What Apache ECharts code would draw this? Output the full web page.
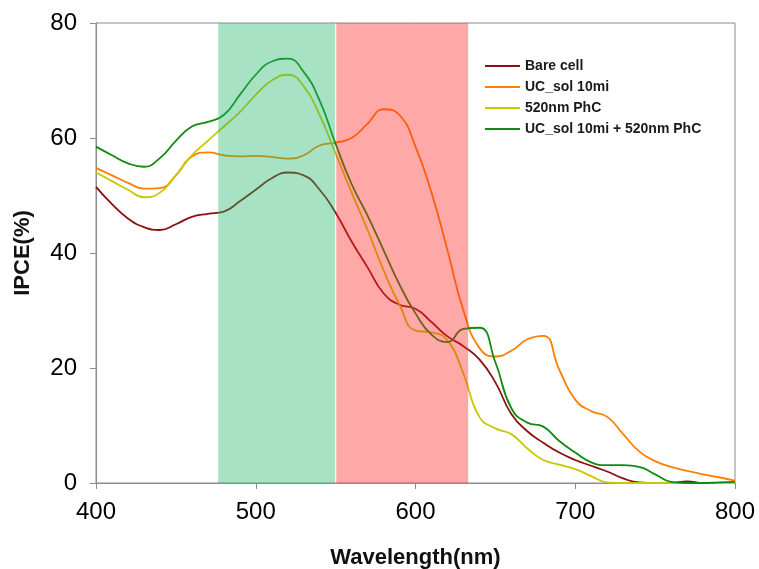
<!DOCTYPE html>
<html>
<head>
<meta charset="utf-8">
<script src="https://cdn.jsdelivr.net/npm/echarts@6/dist/echarts.min.js"></script>
<style>
html,body{margin:0;padding:0;background:#fff;}
#chart{width:759px;height:569px;}
</style>
</head>
<body>
<div id="chart"></div>
<script>
// Wavelength (nm), every 10 nm
var wavelengths = [400,410,420,430,440,450,460,470,480,490,500,510,520,530,540,550,560,570,580,590,600,610,620,630,640,650,660,670,680,690,700,710,720,730,740,750,760,770,780,790,800];

var seriesNames = ['Bare cell', 'UC_sol 10mi', '520nm PhC', 'UC_sol 10mi + 520nm PhC'];

var bareCell = [51.5,48.5,46,44.5,44,45,46.3,46.8,47.2,49,51,53,54,53.5,51,47,42,37.5,33,31,30.3,28,25.5,23.8,21.5,17.5,12,9,7,5.3,4,3,2,0.8,0.1,0,0,0.3,0,0,0];

var ucSol = [54.8,53.5,52.2,51.2,51.3,53.5,56.8,57.5,57,56.8,56.9,56.7,56.4,57,58.7,59.2,60,62.5,65,64,58.5,50.5,40.5,30,23.5,22,23,25,25.6,19.7,14.5,12.5,11.5,8.5,5.5,3.8,2.8,2.1,1.5,1,0.4];

var phc520 = [54,52.5,51,49.7,50.5,53.5,57,59.5,62,64.5,67.5,70,71,69,64,57.3,50.5,44,37,31,26.5,26.2,24.8,19,11.5,9.5,8.5,6,4,3.2,2.4,1.2,0.1,0,0,0,0,0,0,0,0];

var ucSolPhc = [58.5,57,55.6,55,56.5,59.5,62,62.8,64,67.5,71,73.3,73.8,71.5,66.5,59,52,46.5,40.5,34.5,29.5,25.8,24.5,26.8,27,21,13,10.5,9.8,7.3,5.3,3.6,3.1,3.1,2.8,1.5,0.2,0,0,0.1,0.2];

// Highlighted wavelength bands (nm)
var greenBand = [476.5, 549.7];
var redBand = [550.4, 633];

var xTicks = [400, 500, 600, 700, 800];
var yTicks = [0, 20, 40, 60, 80];

var colors = ['#8B1010', '#FF8000', '#C8C800', '#108A10'];
var allValues = [bareCell, ucSol, phc520, ucSolPhc];

function pairs(vals){
  return wavelengths.map(function(w,i){ return [w, vals[i]]; });
}

var series = seriesNames.map(function(name, k){
  return {
    name: name,
    type: 'line',
    data: pairs(allValues[k]),
    smooth: 0.5,
    showSymbol: false,
    symbol: 'none',
    lineStyle: {color: colors[k], width: 1.8},
    itemStyle: {color: colors[k]},
    z: 2
  };
});

series.push({
  name: 'bands',
  type: 'line',
  data: [],
  silent: true,
  markArea: {
    silent: true,
    z: 10,
    data: [
      [{xAxis: greenBand[0], itemStyle: {color: 'rgba(37,182,107,0.4)'}}, {xAxis: greenBand[1]}],
      [{xAxis: redBand[0], itemStyle: {color: 'rgba(255,37,37,0.4)'}}, {xAxis: redBand[1]}]
    ]
  }
});

var chart = echarts.init(document.getElementById('chart'), null, {renderer: 'canvas'});
chart.setOption({
  animation: false,
  backgroundColor: '#ffffff',
  color: colors,
  grid: {left: 96, right: 24, top: 23, bottom: 86, outerBoundsMode: 'none', containLabel: false, show: true, borderColor: '#8c8c8c', borderWidth: 1, backgroundColor: 'transparent'},
  legend: {
    data: seriesNames,
    orient: 'vertical',
    left: 480,
    top: 54,
    icon: 'rect',
    itemWidth: 35,
    itemHeight: 2,
    itemGap: 7,
    textStyle: {fontFamily: 'Liberation Sans, Arial, sans-serif', fontWeight: 'bold', fontSize: 14, color: '#1a1a1a', lineHeight: 14}
  },
  xAxis: {
    type: 'value',
    min: xTicks[0],
    max: xTicks[xTicks.length-1],
    interval: 100,
    name: 'Wavelength(nm)',
    nameLocation: 'middle',
    nameGap: 64,
    nameTextStyle: {fontFamily: 'Liberation Sans, Arial, sans-serif', fontWeight: 'bold', fontSize: 22, color: '#111'},
    axisLine: {show: true, lineStyle: {color: '#8c8c8c', width: 1}},
    axisTick: {show: true, length: 6, inside: false, lineStyle: {color: '#8c8c8c'}},
    axisLabel: {fontFamily: 'Liberation Sans, Arial, sans-serif', fontSize: 24, color: '#000', margin: 17},
    splitLine: {show: false}
  },
  yAxis: {
    type: 'value',
    min: yTicks[0],
    max: yTicks[yTicks.length-1],
    interval: 20,
    name: 'IPCE(%)',
    nameLocation: 'middle',
    nameRotate: 90,
    nameGap: 62,
    nameTextStyle: {fontFamily: 'Liberation Sans, Arial, sans-serif', fontWeight: 'bold', fontSize: 22, color: '#111'},
    axisLine: {show: true, lineStyle: {color: '#8c8c8c', width: 1}},
    axisTick: {show: true, length: 6, inside: false, lineStyle: {color: '#8c8c8c'}},
    axisLabel: {fontFamily: 'Liberation Sans, Arial, sans-serif', fontSize: 24, color: '#000', margin: 19},
    splitLine: {show: false}
  },
  series: series
});
</script>
</body>
</html>
